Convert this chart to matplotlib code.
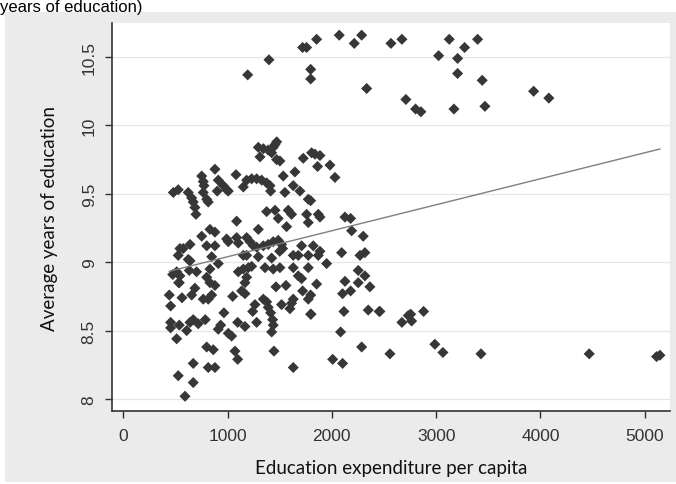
import numpy as np
import matplotlib.pyplot as plt
from matplotlib.patches import Rectangle

# ============================================================
# Data
# ============================================================
expenditure = [
    # top group
    1193, 1397, 1720, 1758, 1854, 1797, 1797, 2071, 2215, 2286, 2334, 2567, 2672,
    3126, 3024, 3273, 3206, 3398, 3206, 3442, 2710, 2803, 2854, 3171, 3468, 3935, 4081,
    # lower right
    2461, 2672, 2733, 2756, 2765, 2880, 2557, 2988, 3065, 3430, 4468, 5114, 5146,
    # 9.6 - 9.9
    1295, 1311, 1343, 1390, 1423, 1438, 1455, 1471, 1471, 1502, 1726, 1806, 1838,
    1886, 1863, 1982, 2030, 1646, 1534,
    # 9.35 - 9.7
    879, 1081, 752, 767, 774, 480, 527, 623, 656, 671, 687, 697, 767, 800, 815,
    911, 901, 959, 991, 1007, 1151, 1183, 1231, 1279, 1327, 1375, 1407, 1413,
    1550, 1630, 1694, 1774, 1797,
    # 9.0 - 9.4
    1375, 1455, 1582, 1614, 1758, 1870, 1886, 1087, 1486, 1566, 1774, 2126, 2180,
    2190, 1295, 831, 879, 752, 991, 1007, 1087, 1103, 1183, 1215, 1247, 1279,
    1343, 1390, 1438, 1486, 1518, 1528, 1500, 1710, 1822, 1886, 2301, 2317, 2270,
    2094, 543, 575, 640, 527, 623, 640, 800, 879, 848, 911, 1151, 1183, 1295,
    1423, 1630, 1678, 1774, 1870, 1950,
    # 8.8 - 9.0
    474, 512, 543, 537, 633, 703, 800, 831, 879, 831, 1103, 1151, 1199, 1231,
    1183, 1167, 1359, 1438, 1502, 1630, 1678, 1710, 1774, 1854, 2126, 2253, 2317,
    2253, 2365, 531,
    # 8.6 - 8.8
    441, 454, 563, 656, 687, 767, 815, 848, 1049, 1135, 1167, 1241, 1263, 1343,
    1375, 1390, 1464, 1518, 1560, 1598, 1614, 1630, 1720, 1774, 1797, 1797, 2103,
    2180, 2116, 2349, 2454, 965, 1413, 1800,
    # 8.0 - 8.6
    454, 454, 537, 512, 608, 640, 671, 719, 786, 911, 934, 1007, 1039, 1071, 1097,
    1097, 1167, 1279, 1432, 1438, 1423, 1445, 1630, 800, 863, 671, 815, 879, 527,
    671, 592, 2008, 2084, 2103, 2286,
]

years = [
    10.37, 10.48, 10.57, 10.57, 10.63, 10.41, 10.34, 10.66, 10.60, 10.66, 10.27, 10.60, 10.63,
    10.63, 10.51, 10.57, 10.49, 10.63, 10.38, 10.33, 10.19, 10.12, 10.10, 10.12, 10.14, 10.25, 10.20,
    8.64, 8.56, 8.61, 8.62, 8.57, 8.64, 8.33, 8.40, 8.34, 8.33, 8.33, 8.31, 8.32,
    9.84, 9.77, 9.83, 9.82, 9.80, 9.84, 9.86, 9.88, 9.75, 9.74, 9.76, 9.80, 9.79,
    9.78, 9.70, 9.71, 9.62, 9.66, 9.63,
    9.68, 9.64, 9.63, 9.59, 9.56, 9.51, 9.53, 9.51, 9.47, 9.44, 9.40, 9.35, 9.51, 9.46, 9.44,
    9.60, 9.52, 9.56, 9.53, 9.52, 9.55, 9.60, 9.61, 9.61, 9.60, 9.58, 9.56, 9.52,
    9.51, 9.56, 9.52, 9.46, 9.45,
    9.37, 9.38, 9.38, 9.35, 9.35, 9.35, 9.33, 9.30, 9.32, 9.26, 9.29, 9.33, 9.32,
    9.23, 9.24, 9.24, 9.22, 9.19, 9.17, 9.15, 9.18, 9.14, 9.18, 9.15, 9.12, 9.11,
    9.12, 9.13, 9.15, 9.16, 9.13, 9.10, 9.08, 9.12, 9.12, 9.08, 9.19, 9.07, 9.05,
    9.07, 9.10, 9.10, 9.13, 9.05, 9.02, 9.01, 9.12, 9.12, 9.04, 8.99, 9.05, 9.05, 9.04,
    9.03, 9.05, 9.05, 9.05, 9.05, 8.99,
    8.91, 8.93, 8.90, 8.85, 8.94, 8.93, 8.89, 8.85, 8.83, 8.95, 8.93, 8.95, 8.96, 8.97,
    8.89, 8.85, 8.96, 8.95, 8.96, 8.96, 8.90, 8.88, 8.96, 8.84, 8.86, 8.94, 8.90,
    8.85, 8.82, 8.85,
    8.76, 8.68, 8.74, 8.76, 8.81, 8.73, 8.73, 8.76, 8.75, 8.79, 8.77, 8.64, 8.69, 8.73,
    8.71, 8.67, 8.82, 8.69, 8.83, 8.66, 8.70, 8.73, 8.79, 8.73, 8.76, 8.62, 8.77,
    8.79, 8.64, 8.65, 8.64, 8.63, 8.63, 8.62,
    8.56, 8.52, 8.54, 8.44, 8.50, 8.56, 8.58, 8.55, 8.58, 8.51, 8.54, 8.48, 8.46, 8.35, 8.29,
    8.56, 8.53, 8.56, 8.58, 8.54, 8.49, 8.35, 8.23, 8.38, 8.36, 8.26, 8.23, 8.23, 8.17,
    8.12, 8.02, 8.29, 8.49, 8.26, 8.38,
]

# linear fit as drawn in the picture
fit_intercept = 8.85
fit_slope = 0.00019

x_ticks = [0, 1000, 2000, 3000, 4000, 5000]
y_ticks = [8, 8.5, 9, 9.5, 10, 10.5]
y_ticklabels = ["8", "8.5", "9", "9.5", "10", "10.5"]

# ============================================================
# Plot
# ============================================================
fig = plt.figure(figsize=(6.76, 4.85), dpi=100, facecolor="white")

# grey Stata-like backdrop (behind the axes)
backdrop = Rectangle((0.008, 0.005), 0.992, 0.968, transform=fig.transFigure,
                     facecolor="#ebebeb", edgecolor="none", zorder=-10)
fig.add_artist(backdrop)

ax = fig.add_axes([0.1657, 0.1505, 0.8253, 0.80])
ax.set_facecolor("white")
ax.set_zorder(1)

ax.scatter(expenditure, years, marker="D", s=32, color="#373737",
           edgecolors="none", zorder=3)

xs = np.array([min(expenditure), max(expenditure)])
ax.plot(xs, fit_intercept + fit_slope * xs, color="#7f7f7f", lw=1.0, zorder=4)

ax.set_xlim(-108, 5242)
ax.set_ylim(7.912, 10.749)

ax.set_xticks(x_ticks)
ax.set_xticklabels([str(t) for t in x_ticks])
ax.set_yticks(y_ticks)
ax.set_yticklabels(y_ticklabels, rotation=90, va="center")
ax.tick_params(axis="both", direction="out", length=5, width=1,
               color="#333333", labelcolor="#333333", labelsize=12.5)
ax.tick_params(axis="y", pad=6)
ax.tick_params(axis="x", pad=7)
for lab in ax.get_xticklabels() + ax.get_yticklabels():
    lab.set_family("Liberation Sans")

ax.grid(axis="y", color="#e6e6e6", lw=0.9)
ax.set_axisbelow(True)

for side in ["top", "right"]:
    ax.spines[side].set_visible(False)
for side in ["left", "bottom"]:
    ax.spines[side].set_color("#333333")
    ax.spines[side].set_linewidth(1.2)

ax.set_xlabel("Education expenditure per capita", family="Lato",
              fontsize=13.5, color="#111111", labelpad=12)
ax.set_ylabel("Average years of education", family="Lato",
              fontsize=13.5, color="#111111", labelpad=17)

# title fragment at the very top
fig.text(0.0, 0.999, "years of education)", family="Liberation Sans",
         fontsize=12, color="black", ha="left", va="top")

fig.savefig("out.png", dpi=100, facecolor=fig.get_facecolor())
